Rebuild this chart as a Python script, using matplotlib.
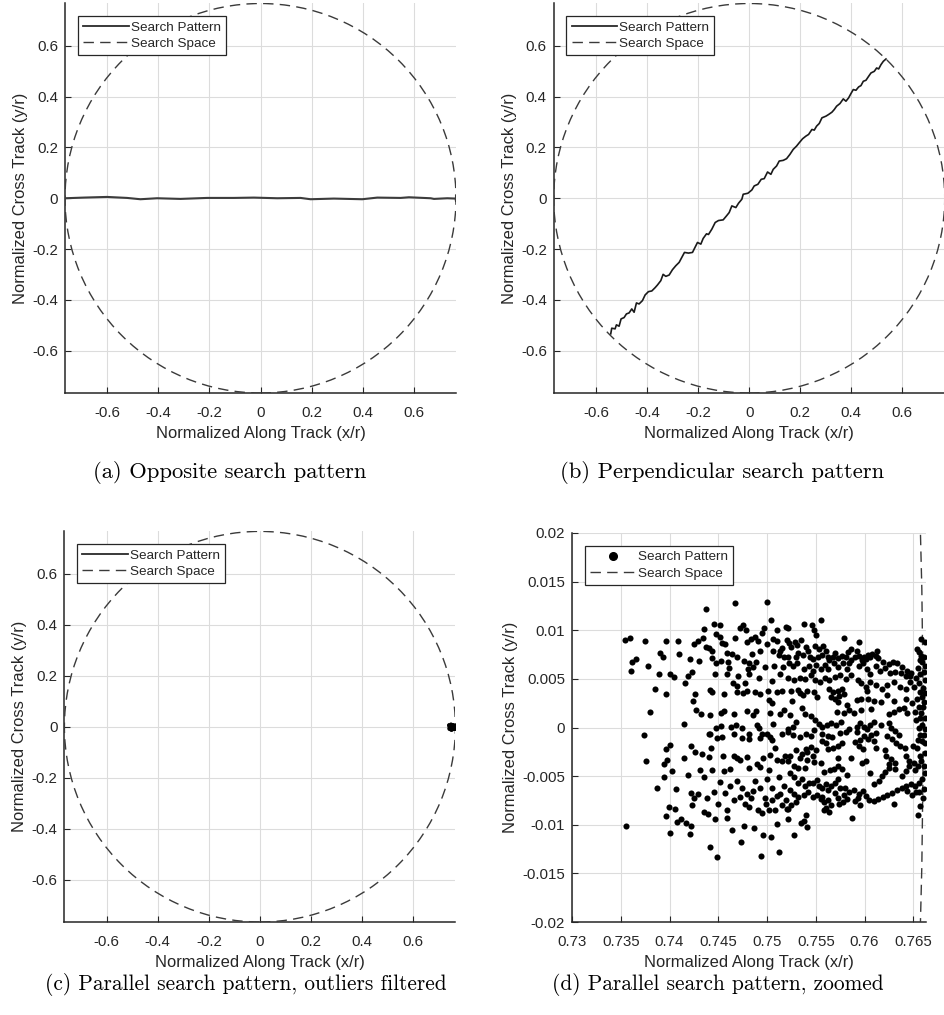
import numpy as np
import matplotlib
matplotlib.use("Agg")
import matplotlib.pyplot as plt
from matplotlib.lines import Line2D
from matplotlib.patches import Circle

plt.rcParams['font.family'] = ['Liberation Sans', 'DejaVu Sans']
plt.rcParams['axes.unicode_minus'] = False

# ---------------------------------------------------------------- data
search_radius = 0.766          # normalized radius of the search space

# opposite pattern: track (x/r, y/r)
opposite_track = [
    (-0.7647, 0.0), (-0.6928, 0.0026), (-0.6013, 0.0052), (-0.5229, 0.0013),
    (-0.4706, -0.0039), (-0.4052, 0.0), (-0.3137, -0.0026), (-0.2092, 0.0013),
    (-0.1046, 0.0013), (-0.0261, 0.0026), (0.0654, 0.0), (0.1569, 0.0013),
    (0.1961, -0.0039), (0.2876, -0.0013), (0.3987, -0.0039), (0.4575, 0.0026),
    (0.5490, 0.0013), (0.5817, 0.0039), (0.6667, 0.0), (0.6797, -0.0026),
    (0.7320, 0.0), (0.7647, -0.0013), (0.7660, -0.0120), (0.7660, 0.0100),
]

# perpendicular pattern: track (x/r, y/r)
perpendicular_track = [
    (-0.5425, -0.5333), (-0.5386, -0.5111), (-0.5255, -0.5137), (-0.5203, -0.4980),
    (-0.5098, -0.5033), (-0.5020, -0.4745), (-0.4902, -0.4693), (-0.4810, -0.4549),
    (-0.4706, -0.4510), (-0.4601, -0.4353), (-0.4510, -0.4484), (-0.4418, -0.4118),
    (-0.4314, -0.4157), (-0.4183, -0.4026), (-0.4078, -0.3804), (-0.3948, -0.3673),
    (-0.3817, -0.3647), (-0.3686, -0.3516), (-0.3595, -0.3412), (-0.3464, -0.3242),
    (-0.3373, -0.2993), (-0.3268, -0.3072), (-0.3137, -0.3020), (-0.3007, -0.2810),
    (-0.2876, -0.2654), (-0.2745, -0.2523), (-0.2641, -0.2327), (-0.2536, -0.2131),
    (-0.2379, -0.2157), (-0.2222, -0.2131), (-0.2144, -0.1974), (-0.2026, -0.1739),
    (-0.1895, -0.1804), (-0.1804, -0.1582), (-0.1673, -0.1399), (-0.1595, -0.1425),
    (-0.1464, -0.1216), (-0.1333, -0.0954), (-0.1203, -0.0876), (-0.1020, -0.0850),
    (-0.0889, -0.0693), (-0.0784, -0.0562), (-0.0680, -0.0301), (-0.0523, -0.0366),
    (-0.0418, -0.0196), (-0.0288, -0.0039), (-0.0235, 0.0157), (-0.0052, 0.0196),
    (0.0105, 0.0327), (0.0196, 0.0484), (0.0340, 0.0549), (0.0471, 0.0745),
    (0.0588, 0.0771), (0.0719, 0.1033), (0.0850, 0.0941), (0.0941, 0.1137),
    (0.1072, 0.1268), (0.1176, 0.1464), (0.1333, 0.1490), (0.1464, 0.1556),
    (0.1595, 0.1725), (0.1725, 0.1922), (0.1856, 0.2052), (0.1961, 0.2183),
    (0.2092, 0.2340), (0.2222, 0.2444), (0.2327, 0.2510), (0.2458, 0.2706),
    (0.2549, 0.2680), (0.2641, 0.2837), (0.2745, 0.2941), (0.2850, 0.3163),
    (0.3007, 0.3229), (0.3111, 0.3294), (0.3242, 0.3386), (0.3333, 0.3490),
    (0.3425, 0.3621), (0.3556, 0.3725), (0.3686, 0.3908), (0.3791, 0.3817),
    (0.3895, 0.3948), (0.3987, 0.4118), (0.4078, 0.4275), (0.4183, 0.4248),
    (0.4288, 0.4379), (0.4379, 0.4431), (0.4471, 0.4601), (0.4575, 0.4641),
    (0.4680, 0.4797), (0.4771, 0.4928), (0.4902, 0.4993), (0.4993, 0.5124),
    (0.5072, 0.5085), (0.5163, 0.5255), (0.5255, 0.5386), (0.5359, 0.5477),
]

# parallel pattern: search points (x/r, y/r), outliers removed
parallel_points = [
    # sparse leading edge, upper half
    (0.7354, 0.0090), (0.7359, 0.0092), (0.7361, 0.0058), (0.7362, 0.0067), (0.7366, 0.0070),
    (0.7375, 0.0089), (0.7378, 0.0063), (0.7380, 0.0016), (0.7385, 0.0040), (0.7389, 0.0055),
    (0.7390, 0.0077), (0.7393, 0.0073), (0.7396, 0.0089), (0.7396, 0.0034), (0.7401, 0.0055),
    (0.7405, 0.0052), (0.7409, 0.0089), (0.7410, 0.0076), (0.7416, 0.0046), (0.7419, 0.0053),
    (0.7421, 0.0070), (0.7423, 0.0057), (0.7424, 0.0027), (0.7425, 0.0086), (0.7426, 0.0034),
    (0.7427, 0.0018), (0.7429, 0.0089), (0.7430, 0.0068), (0.7432, 0.0014), (0.7434, 0.0092),
    (0.7435, 0.0101), (0.7437, 0.0122), (0.7437, 0.0083), (0.7440, 0.0082), (0.7442, 0.0039),
    (0.7444, 0.0079), (0.7444, 0.0071), (0.7444, 0.0036), (0.7446, 0.0106), (0.7447, 0.0055),
    (0.7448, 0.0096), (0.7448, 0.0066), (0.7452, 0.0105), (0.7452, 0.0093), (0.7453, 0.0068),
    (0.7454, 0.0087), (0.7456, 0.0034), (0.7457, 0.0086), (0.7459, 0.0055), (0.7459, 0.0077),
    (0.7460, 0.0067), (0.7461, 0.0061), (0.7464, 0.0076), (0.7465, 0.0046), (0.7467, 0.0128),
    (0.7467, 0.0092), (0.7469, 0.0072), (0.7469, 0.0043), (0.7470, 0.0053), (0.7472, 0.0102),
    (0.7475, 0.0105), (0.7476, 0.0068), (0.7477, 0.0046), (0.7478, 0.0100), (0.7479, 0.0088),
    (0.7480, 0.0060), (0.7481, 0.0055), (0.7482, 0.0066), (0.7484, 0.0091), (0.7485, 0.0076),
    (0.7486, 0.0062), (0.7488, 0.0093), (0.7489, 0.0067), (0.7491, 0.0089), (0.7492, 0.0051),
    (0.7493, 0.0079), (0.7495, 0.0097), (0.7497, 0.0102), (0.7498, 0.0062), (0.7500, 0.0129),
    (0.7500, 0.0086), (0.7501, 0.0038), (0.7502, 0.0028), (0.7504, 0.0111), (0.7505, 0.0048),
    (0.7506, 0.0091), (0.7506, 0.0079), (0.7507, 0.0063), (0.7510, 0.0089), (0.7510, 0.0100),
    (0.7512, 0.0075), (0.7513, 0.0055), (0.7513, 0.0079), (0.7515, 0.0082), (0.7516, 0.0062),
    (0.7517, 0.0072), (0.7519, 0.0103), (0.7520, 0.0090), (0.7521, 0.0051),
    # sparse leading edge, middle and lower half
    (0.7355, -0.0101), (0.7374, -0.0008), (0.7376, -0.0034), (0.7387, -0.0062), (0.7394, -0.0038),
    (0.7394, -0.0051), (0.7396, -0.0022), (0.7397, -0.0033), (0.7396, -0.0091), (0.7399, -0.0082),
    (0.7400, -0.0108), (0.7401, -0.0018), (0.7403, -0.0045), (0.7406, -0.0084), (0.7407, -0.0063),
    (0.7408, -0.0097), (0.7412, -0.0094), (0.7415, 0.0004), (0.7415, -0.0031), (0.7417, -0.0098),
    (0.7419, -0.0049), (0.7421, -0.0109), (0.7422, -0.0019), (0.7422, -0.0101), (0.7422, -0.0067),
    (0.7423, -0.0080), (0.7426, -0.0025), (0.7425, -0.0072), (0.7429, -0.0068), (0.7431, -0.0044),
    (0.7433, -0.0027), (0.7435, -0.0051), (0.7435, -0.0087), (0.7438, -0.0072), (0.7439, -0.0089),
    (0.7441, -0.0007), (0.7442, -0.0123), (0.7443, -0.0021), (0.7444, -0.0044), (0.7446, -0.0066),
    (0.7447, -0.0094), (0.7448, 0.0000), (0.7449, -0.0133), (0.7450, -0.0079), (0.7452, -0.0056),
    (0.7453, 0.0002), (0.7456, -0.0045), (0.7456, 0.0017), (0.7457, -0.0067), (0.7459, -0.0085),
    (0.7459, -0.0093), (0.7462, -0.0043), (0.7463, 0.0001), (0.7464, -0.0105), (0.7468, 0.0003),
    (0.7469, -0.0031), (0.7472, -0.0071), (0.7473, -0.0118), (0.7474, -0.0062), (0.7476, -0.0101),
    (0.7479, -0.0068), (0.7479, 0.0017), (0.7482, -0.0082), (0.7482, -0.0007), (0.7482, -0.0042),
    (0.7484, -0.0072), (0.7487, -0.0103), (0.7488, -0.0055), (0.7489, 0.0017), (0.7490, 0.0003),
    (0.7490, -0.0038), (0.7491, -0.0085), (0.7493, -0.0062), (0.7493, -0.0041), (0.7494, -0.0132),
    (0.7495, -0.0007), (0.7496, -0.0111), (0.7498, -0.0072), (0.7499, -0.0079), (0.7500, -0.0053),
    (0.7502, -0.0044), (0.7502, -0.0085), (0.7503, -0.0010), (0.7504, -0.0113), (0.7505, 0.0025),
    (0.7506, 0.0004), (0.7508, -0.0021), (0.7512, -0.0051), (0.7513, -0.0068), (0.7515, -0.0034),
    (0.7517, -0.0060), (0.7519, -0.0075), (0.7520, -0.0084), (0.7522, -0.0005), (0.7510, -0.0099),
    (0.7508, -0.0085), (0.7505, -0.0075), (0.7512, -0.0128), (0.7440, -0.0007), (0.7466, -0.0007),
    (0.7474, 0.0000), (0.7492, -0.0001), (0.7500, -0.0007), (0.7515, -0.0007),
    (0.7469, 0.0037), (0.7475, 0.0035), (0.7479, 0.0038), (0.7488, 0.0036), (0.7493, 0.0034),
    (0.7510, 0.0036), (0.7515, 0.0038), (0.7541, 0.0038), (0.7537, 0.0033),
    (0.7442, 0.0013), (0.7453, 0.0015), (0.7466, 0.0014), (0.7486, 0.0013), (0.7503, 0.0015),
    (0.7513, 0.0014), (0.7517, 0.0018), (0.7524, 0.0013), (0.7539, 0.0014), (0.7545, 0.0012),
    (0.7449, -0.0011), (0.7454, -0.0010), (0.7474, -0.0011), (0.7481, -0.0012), (0.7493, -0.0011),
    (0.7505, -0.0013),
    (0.7440, -0.0030), (0.7455, -0.0029), (0.7466, -0.0029), (0.7472, -0.0033), (0.7479, -0.0030),
    (0.7496, -0.0031), (0.7503, -0.0028), (0.7510, -0.0033), (0.7518, -0.0029), (0.7524, -0.0029),
    (0.7541, -0.0033), (0.7548, -0.0035),
    (0.7462, -0.0060), (0.7466, -0.0075), (0.7469, -0.0055), (0.7477, -0.0079), (0.7486, -0.0065),
    (0.7495, -0.0088), (0.7505, -0.0062), (0.7510, -0.0070), (0.7515, -0.0080),
    # dense lattice near the far boundary
    (0.7555, 0.0111), (0.7538, 0.0106), (0.7546, 0.0105), (0.7522, 0.0102), (0.7548, 0.0100),
    (0.7550, 0.0095), (0.7579, 0.0092), (0.7594, 0.0088), (0.7523, 0.0087), (0.7529, 0.0088),
    (0.7535, 0.0090), (0.7531, 0.0085), (0.7525, 0.0083), (0.7540, 0.0083), (0.7542, 0.0079),
    (0.7549, 0.0084), (0.7553, 0.0081), (0.7557, 0.0084), (0.7560, 0.0079), (0.7570, 0.0077),
    (0.7568, 0.0073), (0.7583, 0.0078), (0.7586, 0.0081), (0.7592, 0.0079), (0.7594, 0.0074),
    (0.7599, 0.0073), (0.7604, 0.0075), (0.7608, 0.0076), (0.7613, 0.0079), (0.7612, 0.0074),
    (0.7656, 0.0078), (0.7654, 0.0081), (0.7658, 0.0074), (0.7522, 0.0073), (0.7530, 0.0073),
    (0.7532, 0.0077), (0.7537, 0.0075), (0.7544, 0.0073), (0.7547, 0.0070), (0.7552, 0.0073),
    (0.7556, 0.0075), (0.7562, 0.0073), (0.7564, 0.0069), (0.7573, 0.0071), (0.7577, 0.0074),
    (0.7581, 0.0073), (0.7586, 0.0069), (0.7590, 0.0072), (0.7597, 0.0069), (0.7601, 0.0070),
    (0.7606, 0.0072), (0.7614, 0.0071), (0.7619, 0.0067), (0.7625, 0.0065), (0.7629, 0.0067),
    (0.7633, 0.0066), (0.7638, 0.0062), (0.7644, 0.0058), (0.7648, 0.0056), (0.7655, 0.0061),
    (0.7659, 0.0067), (0.7523, 0.0066), (0.7527, 0.0063), (0.7531, 0.0066), (0.7538, 0.0060),
    (0.7543, 0.0063), (0.7547, 0.0058), (0.7550, 0.0064), (0.7555, 0.0060), (0.7559, 0.0064),
    (0.7563, 0.0060), (0.7569, 0.0066), (0.7573, 0.0062), (0.7578, 0.0066), (0.7582, 0.0060),
    (0.7584, 0.0066), (0.7594, 0.0063), (0.7598, 0.0066), (0.7602, 0.0060), (0.7612, 0.0063),
    (0.7616, 0.0058), (0.7621, 0.0061), (0.7626, 0.0056), (0.7631, 0.0057), (0.7637, 0.0056),
    (0.7642, 0.0053), (0.7647, 0.0053), (0.7653, 0.0051), (0.7657, 0.0055), (0.7661, 0.0057),
    (0.7606, 0.0055), (0.7528, 0.0049), (0.7534, 0.0051), (0.7539, 0.0050), (0.7545, 0.0054),
    (0.7549, 0.0049), (0.7554, 0.0047), (0.7559, 0.0051), (0.7564, 0.0049), (0.7570, 0.0052),
    (0.7575, 0.0054), (0.7581, 0.0050), (0.7586, 0.0054), (0.7593, 0.0049), (0.7596, 0.0046),
    (0.7601, 0.0042), (0.7606, 0.0047), (0.7612, 0.0044), (0.7618, 0.0040), (0.7623, 0.0044),
    (0.7630, 0.0047), (0.7636, 0.0042), (0.7642, 0.0040), (0.7647, 0.0047), (0.7651, 0.0042),
    (0.7656, 0.0046), (0.7660, 0.0041), (0.7525, 0.0038), (0.7532, 0.0039), (0.7534, 0.0035),
    (0.7548, 0.0036), (0.7551, 0.0031), (0.7564, 0.0040), (0.7568, 0.0036), (0.7573, 0.0038),
    (0.7574, 0.0032), (0.7577, 0.0040), (0.7579, 0.0034), (0.7570, 0.0029), (0.7573, 0.0026),
    (0.7566, 0.0031), (0.7592, 0.0028), (0.7596, 0.0029), (0.7603, 0.0038), (0.7604, 0.0029),
    (0.7610, 0.0027), (0.7617, 0.0026), (0.7623, 0.0033), (0.7630, 0.0027), (0.7642, 0.0029),
    (0.7649, 0.0025), (0.7654, 0.0029), (0.7657, 0.0036), (0.7659, 0.0031), (0.7526, 0.0027),
    (0.7536, 0.0020), (0.7582, 0.0023), (0.7584, 0.0018), (0.7572, 0.0016), (0.7579, 0.0015),
    (0.7589, 0.0015), (0.7596, 0.0018), (0.7607, 0.0019), (0.7625, 0.0014), (0.7630, 0.0016),
    (0.7635, 0.0019), (0.7640, 0.0020), (0.7644, 0.0015), (0.7652, 0.0016), (0.7658, 0.0015),
    (0.7660, 0.0021), (0.7657, 0.0010), (0.7527, 0.0001), (0.7530, 0.0006), (0.7549, 0.0008),
    (0.7553, 0.0004), (0.7556, 0.0001), (0.7561, 0.0003), (0.7566, 0.0005), (0.7571, 0.0003),
    (0.7576, 0.0006), (0.7581, -0.0005), (0.7584, -0.0002), (0.7592, 0.0001), (0.7595, 0.0005),
    (0.7599, 0.0001), (0.7603, -0.0002), (0.7606, 0.0003), (0.7610, 0.0006), (0.7612, -0.0006),
    (0.7617, 0.0003), (0.7625, 0.0005), (0.7627, 0.0000), (0.7631, -0.0004), (0.7635, -0.0008),
    (0.7653, 0.0008), (0.7656, -0.0001), (0.7659, 0.0003), (0.7662, -0.0002), (0.7522, -0.0002),
    (0.7527, -0.0008), (0.7534, -0.0010), (0.7540, -0.0007), (0.7545, -0.0009), (0.7548, -0.0003),
    (0.7556, -0.0007), (0.7563, -0.0009), (0.7567, -0.0010), (0.7575, -0.0006), (0.7577, -0.0016),
    (0.7573, -0.0019), (0.7568, -0.0021), (0.7560, -0.0016), (0.7562, -0.0022), (0.7556, -0.0014),
    (0.7550, -0.0023), (0.7545, -0.0020), (0.7540, -0.0022), (0.7536, -0.0027), (0.7541, -0.0025),
    (0.7547, -0.0029), (0.7592, -0.0005), (0.7595, -0.0013), (0.7599, -0.0009), (0.7604, -0.0012),
    (0.7607, -0.0008), (0.7610, -0.0014), (0.7612, -0.0021), (0.7590, -0.0015), (0.7594, -0.0019),
    (0.7598, -0.0022), (0.7623, -0.0009), (0.7628, -0.0012), (0.7632, -0.0016), (0.7636, -0.0019),
    (0.7641, -0.0021), (0.7621, -0.0023), (0.7650, -0.0019), (0.7654, -0.0021), (0.7657, -0.0008),
    (0.7659, -0.0014), (0.7662, -0.0016), (0.7530, -0.0023), (0.7534, -0.0031), (0.7573, -0.0031),
    (0.7586, -0.0031), (0.7597, -0.0036), (0.7601, -0.0034), (0.7606, -0.0047), (0.7622, -0.0029),
    (0.7627, -0.0032), (0.7625, -0.0038), (0.7631, -0.0036), (0.7642, -0.0029), (0.7646, -0.0034),
    (0.7651, -0.0036), (0.7657, -0.0029), (0.7658, -0.0034), (0.7661, -0.0040), (0.7655, -0.0040),
    (0.7522, -0.0034), (0.7528, -0.0040), (0.7532, -0.0042), (0.7539, -0.0042), (0.7555, -0.0036),
    (0.7558, -0.0046), (0.7565, -0.0044), (0.7569, -0.0043), (0.7573, -0.0040), (0.7577, -0.0043),
    (0.7582, -0.0049), (0.7524, -0.0047), (0.7652, -0.0044), (0.7646, -0.0040), (0.7642, -0.0045),
    (0.7638, -0.0050), (0.7631, -0.0043), (0.7625, -0.0042), (0.7621, -0.0046), (0.7618, -0.0050),
    (0.7615, -0.0055), (0.7610, -0.0058), (0.7528, -0.0051), (0.7532, -0.0057), (0.7536, -0.0053),
    (0.7539, -0.0060), (0.7543, -0.0057), (0.7547, -0.0057), (0.7551, -0.0054), (0.7553, -0.0060),
    (0.7556, -0.0062), (0.7560, -0.0058), (0.7562, -0.0064), (0.7566, -0.0060), (0.7570, -0.0057),
    (0.7573, -0.0053), (0.7575, -0.0062), (0.7580, -0.0062), (0.7584, -0.0066), (0.7589, -0.0064),
    (0.7594, -0.0068), (0.7598, -0.0065), (0.7601, -0.0070), (0.7605, -0.0075), (0.7610, -0.0076),
    (0.7614, -0.0074), (0.7619, -0.0071), (0.7623, -0.0069), (0.7628, -0.0067), (0.7633, -0.0064),
    (0.7638, -0.0062), (0.7643, -0.0060), (0.7648, -0.0058), (0.7652, -0.0060), (0.7656, -0.0057),
    (0.7659, -0.0053), (0.7653, -0.0066), (0.7649, -0.0069), (0.7644, -0.0065), (0.7524, -0.0064),
    (0.7528, -0.0068), (0.7532, -0.0071), (0.7538, -0.0069), (0.7542, -0.0066), (0.7547, -0.0071),
    (0.7551, -0.0069), (0.7555, -0.0074), (0.7558, -0.0077), (0.7562, -0.0075), (0.7566, -0.0080),
    (0.7560, -0.0083), (0.7564, -0.0087), (0.7558, -0.0085), (0.7556, -0.0071), (0.7570, -0.0067),
    (0.7573, -0.0072), (0.7579, -0.0069), (0.7582, -0.0074), (0.7574, -0.0079), (0.7578, -0.0077),
    (0.7590, -0.0076), (0.7595, -0.0080), (0.7593, -0.0072), (0.7630, -0.0079), (0.7587, -0.0093),
    (0.7540, -0.0090), (0.7535, -0.0098), (0.7538, -0.0096), (0.7541, -0.0102), (0.7528, -0.0111),
    (0.7522, -0.0084), (0.7525, -0.0080), (0.7530, -0.0077), (0.7655, -0.0090), (0.7657, -0.0081),
    (0.7522, -0.0094), (0.7658, 0.0091), (0.7662, 0.0088),
    # column packed against the boundary
    (0.7661, 0.0073), (0.7662, 0.0063), (0.7662, 0.0049), (0.7662, 0.0035), (0.7661, 0.0026),
    (0.7662, 0.0010), (0.7661, -0.0008), (0.7662, -0.0026), (0.7662, -0.0047), (0.7661, -0.0063),
    (0.7660, -0.0072), (0.7657, 0.0069), (0.7656, 0.0021), (0.7655, -0.0013), (0.7656, -0.0066),
]

ticks_full = [-0.6, -0.4, -0.2, 0.0, 0.2, 0.4, 0.6]
ticks_full_labels = ['-0.6', '-0.4', '-0.2', '0', '0.2', '0.4', '0.6']
zoom_xticks = [0.73, 0.735, 0.74, 0.745, 0.75, 0.755, 0.76, 0.765]
zoom_xtick_labels = ['0.73', '0.735', '0.74', '0.745', '0.75', '0.755', '0.76', '0.765']
zoom_yticks = [-0.02, -0.015, -0.01, -0.005, 0.0, 0.005, 0.01, 0.015, 0.02]
zoom_ytick_labels = ['-0.02', '-0.015', '-0.01', '-0.005', '0', '0.005', '0.01', '0.015', '0.02']
zoom_xlim = (0.73, 0.7663)
zoom_ylim = (-0.02, 0.02)

captions = [
    "(a) Opposite search pattern",
    "(b) Perpendicular search pattern",
    "(c) Parallel search pattern, outliers filtered",
    "(d) Parallel search pattern, zoomed",
]

# ---------------------------------------------------------------- style
W, H = 944, 1015
TEXT = '#262626'
SPACE_COLOR = '#3a3a3a'
DASH = (0, (7.5, 4.5))
TICK_FS, LABEL_FS, LEG_FS = 10.8, 11.9, 9.7

fig = plt.figure(figsize=(W / 100, H / 100), dpi=100)


def add_axes_px(left, top, right, bottom):
    return fig.add_axes([left / W, 1 - bottom / H, (right - left) / W, (bottom - top) / H])


def style_axes(ax, xticks, xlabels, yticks, ylabels, xlim, ylim):
    ax.set_xlim(*xlim)
    ax.set_ylim(*ylim)
    ax.set_xticks(xticks)
    ax.set_xticklabels(xlabels)
    ax.set_yticks(yticks)
    ax.set_yticklabels(ylabels)
    ax.grid(True, color='#dcdcdc', lw=0.8)
    ax.set_axisbelow(True)
    for side in ('top', 'right'):
        ax.spines[side].set_visible(False)
    for side in ('left', 'bottom'):
        ax.spines[side].set_color(TEXT)
        ax.spines[side].set_linewidth(1.1)
    ax.tick_params(direction='in', length=4, width=0.8, color=TEXT,
                   labelsize=TICK_FS, labelcolor=TEXT)
    ax.tick_params(axis='x', pad=9.5)
    ax.tick_params(axis='y', pad=5)
    ax.set_xlabel('Normalized Along Track (x/r)', fontsize=LABEL_FS, color=TEXT, labelpad=4.5)
    ax.set_ylabel('Normalized Cross Track (y/r)', fontsize=LABEL_FS, color=TEXT, labelpad=3)


def add_space(ax):
    ax.add_patch(Circle((0, 0), search_radius, fill=False, ec=SPACE_COLOR,
                        lw=1.0, ls=DASH, zorder=3))


def add_legend(ax, ax_w_px, ax_h_px, pattern_handle):
    space_handle = Line2D([], [], color=SPACE_COLOR, lw=1.0, ls=DASH)
    leg = ax.legend([pattern_handle, space_handle], ['Search Pattern', 'Search Space'],
                    loc='upper left',
                    bbox_to_anchor=(12.7 / ax_w_px, 1 - 12.8 / ax_h_px),
                    borderaxespad=0, fontsize=LEG_FS, handlelength=3.4,
                    handletextpad=0.15, borderpad=0.38, labelspacing=0.28,
                    fancybox=False, framealpha=1, edgecolor=TEXT)
    leg.get_frame().set_linewidth(0.9)
    for t in leg.get_texts():
        t.set_color(TEXT)


lim = (-search_radius, search_radius)
line_handle = Line2D([], [], color='#2a2a2a', lw=1.3)

# (a) opposite
ax_a = add_axes_px(65, 3.5, 456, 393)
style_axes(ax_a, ticks_full, ticks_full_labels, ticks_full, ticks_full_labels, lim, lim)
ox, oy = np.array(opposite_track).T
ax_a.plot(ox, oy, color='#3c3c3c', lw=1.5, zorder=4)
add_space(ax_a)
add_legend(ax_a, 391, 389.5, line_handle)

# (b) perpendicular
ax_b = add_axes_px(553.7, 3.5, 944.7, 393)
style_axes(ax_b, ticks_full, ticks_full_labels, ticks_full, ticks_full_labels, lim, lim)
px_, py_ = np.array(perpendicular_track).T
ax_b.plot(px_, py_, color='#1a1a1a', lw=1.2, zorder=4)
add_space(ax_b)
add_legend(ax_b, 391, 389.5, line_handle)

# (c) parallel, full view
par_x, par_y = np.array(parallel_points).T
ax_c = add_axes_px(64.4, 531.4, 455.4, 922)
style_axes(ax_c, ticks_full, ticks_full_labels, ticks_full, ticks_full_labels, lim, lim)
ax_c.plot(par_x, par_y, ls='none', marker='o', ms=1.4, mfc='k', mec='k', mew=0, zorder=4)
add_space(ax_c)
add_legend(ax_c, 391, 390.6, line_handle)

# (d) parallel, zoomed
ax_d = add_axes_px(572, 533, 926, 922)
style_axes(ax_d, zoom_xticks, zoom_xtick_labels, zoom_yticks, zoom_ytick_labels,
           zoom_xlim, zoom_ylim)
ax_d.plot(par_x, par_y, ls='none', marker='o', ms=4.4, mfc='k', mec='k', mew=0, zorder=4)
add_space(ax_d)
dot_handle = Line2D([], [], ls='none', marker='o', ms=5.5, color='k')
add_legend(ax_d, 354, 389, dot_handle)

# sub-figure captions
cap_top = dict(family='cmr10', fontsize=16.3, color='black', ha='center', va='center')
cap_bot = dict(family='cmr10', fontsize=15.4, color='black', ha='center', va='center')
fig.text(230 / W, 1 - 472 / H, captions[0], **cap_top)
fig.text(722 / W, 1 - 472 / H, captions[1], **cap_top)
fig.text(245.5 / W, 1 - 985 / H, captions[2], **cap_bot)
fig.text(718 / W, 1 - 985 / H, captions[3], **cap_bot)

fig.savefig('out.png', dpi=100)
